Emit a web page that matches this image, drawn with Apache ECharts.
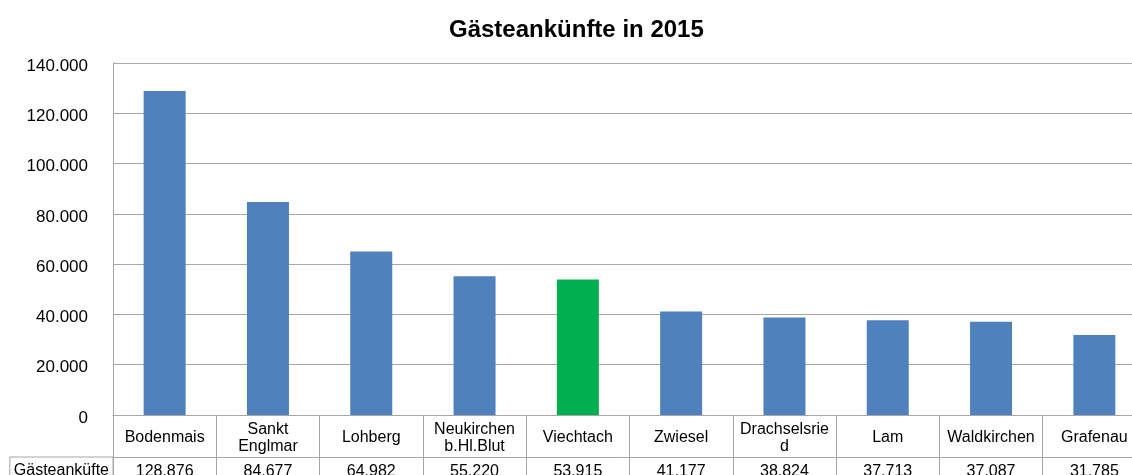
<!DOCTYPE html>
<html>
<head>
<meta charset="utf-8">
<script src="https://cdn.jsdelivr.net/npm/echarts@6/dist/echarts.min.js"></script>
<style>
  html, body { margin: 0; padding: 0; background: #fff; }
  #chart { width: 1132px; height: 475px; }
</style>
</head>
<body>
<div id="chart"></div>
<script>
// Gästeankünfte 2015 je Ort
const orte = ['Bodenmais', 'Sankt\nEnglmar', 'Lohberg', 'Neukirchen\nb.Hl.Blut', 'Viechtach',
  'Zwiesel', 'Drachselsrie\nd', 'Lam', 'Waldkirchen', 'Grafenau'];
const ankuenfte = [128876, 84677, 64982, 55220, 53915, 41177, 38824, 37713, 37087, 31785];
const hervorgehoben = 'Viechtach';
const yTicks = { min: 0, max: 140000, interval: 20000 };

const blau = '#4f81bd';
const gruen = '#00b050';
const linie = '#a6a6a6';

// deutsche Tausenderpunkte
const fmt = (v) => String(v).replace(/\B(?=(\d{3})+(?!\d))/g, '.');

const chart = echarts.init(document.getElementById('chart'));
chart.setOption({
  animation: false,
  title: {
    text: 'Gästeankünfte in 2015',
    left: 444,
    top: 13,
    textStyle: { fontFamily: 'Liberation Sans', fontSize: 24, fontWeight: 'bold', color: '#000' }
  },
  grid: { left: 113, top: 63, width: 1033, bottom: 60, outerBoundsMode: 'none' },
  xAxis: [
    {
      type: 'category',
      data: orte,
      position: 'bottom',
      axisLine: { lineStyle: { color: linie } },
      axisTick: { show: true, interval: 0, length: 60, lineStyle: { color: linie } },
      axisLabel: {
        interval: 0,
        margin: 23,
        verticalAlign: 'middle',
        lineHeight: 17,
        fontFamily: 'Liberation Sans',
        fontSize: 16,
        color: '#000'
      }
    },
    {
      type: 'category',
      data: ankuenfte.map(fmt),
      position: 'bottom',
      offset: 42,
      axisLine: { lineStyle: { color: linie } },
      axisTick: { show: false },
      axisLabel: {
        interval: 0,
        margin: 7,
        fontFamily: 'Liberation Sans',
        fontSize: 16,
        color: '#000'
      },
      name: 'Gästeanküfte',
      nameLocation: 'start',
      nameGap: 0,
      nameTextStyle: {
        align: 'right',
        verticalAlign: 'top',
        padding: [6, 4, 10, 4],
        borderColor: linie,
        borderWidth: 1,
        fontFamily: 'Liberation Sans',
        fontSize: 16,
        color: '#000'
      }
    }
  ],
  yAxis: {
    type: 'value',
    min: yTicks.min,
    max: yTicks.max,
    interval: yTicks.interval,
    axisLine: { show: true, lineStyle: { color: linie } },
    axisTick: { show: false },
    splitLine: { lineStyle: { color: linie } },
    axisLabel: {
      margin: 25,
      // kleiner Leerblock oben schiebt die Zahl etwas nach unten
      formatter: (v) => '{s| }\n{v|' + fmt(v) + '}',
      rich: {
        s: { fontSize: 1, lineHeight: 6 },
        v: { fontFamily: 'Liberation Sans', fontSize: 17, lineHeight: 20, color: '#000' }
      }
    }
  },
  series: [
    {
      type: 'bar',
      xAxisIndex: 0,
      barWidth: 42,
      data: ankuenfte.map((v, i) => ({
        value: v,
        itemStyle: { color: orte[i] === hervorgehoben ? gruen : blau }
      }))
    }
  ]
});
</script>
</body>
</html>
